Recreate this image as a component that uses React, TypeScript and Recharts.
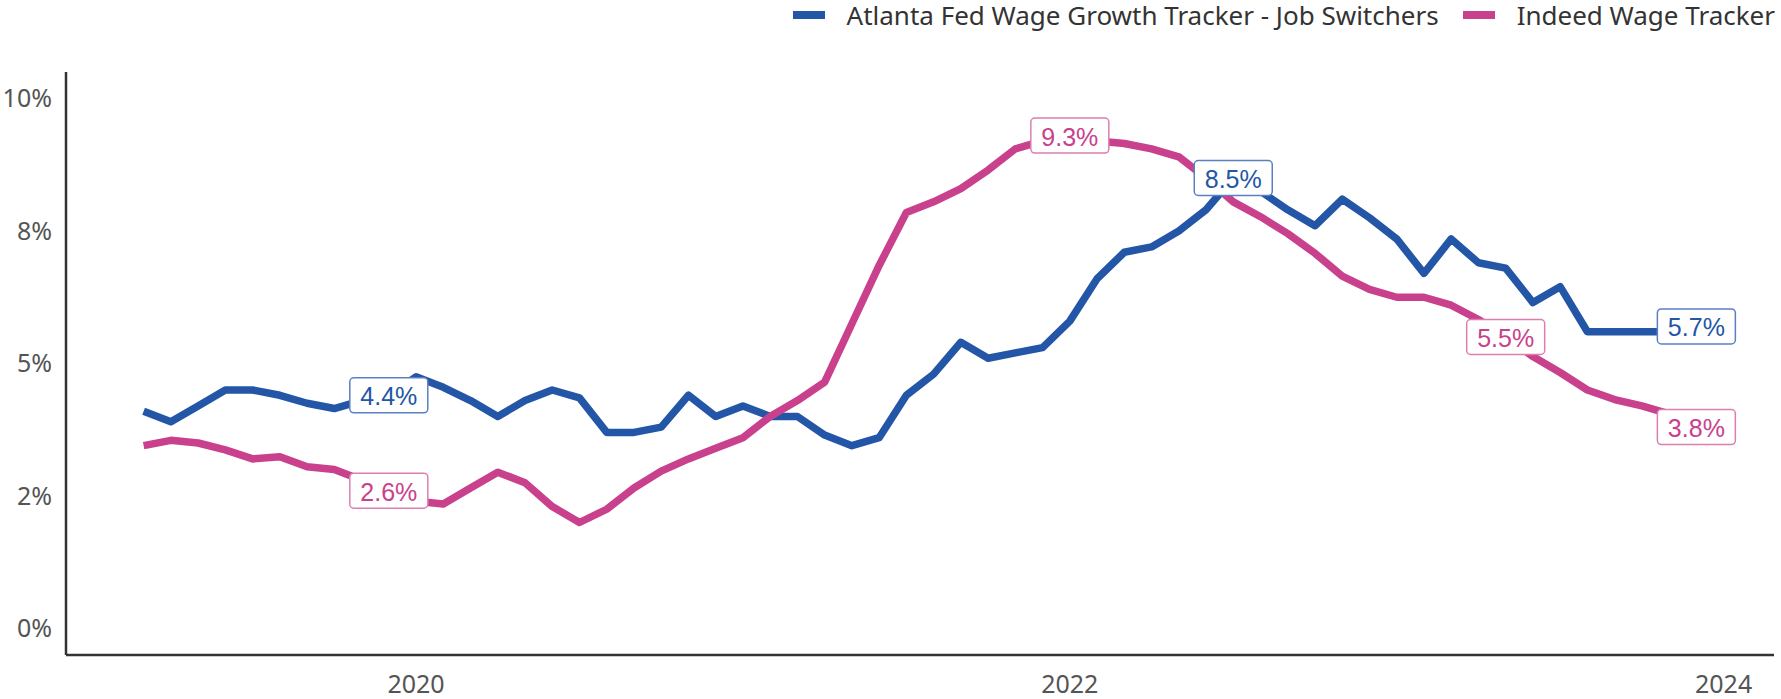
import { LineChart, Line, XAxis, YAxis, Legend, LabelList } from 'recharts'

// monthly observations, Mar 2019 - Dec 2023
const months = [
  '2019-03', '2019-04', '2019-05', '2019-06', '2019-07', '2019-08', '2019-09', '2019-10', '2019-11', '2019-12',
  '2020-01', '2020-02', '2020-03', '2020-04', '2020-05', '2020-06', '2020-07', '2020-08', '2020-09', '2020-10', '2020-11', '2020-12',
  '2021-01', '2021-02', '2021-03', '2021-04', '2021-05', '2021-06', '2021-07', '2021-08', '2021-09', '2021-10', '2021-11', '2021-12',
  '2022-01', '2022-02', '2022-03', '2022-04', '2022-05', '2022-06', '2022-07', '2022-08', '2022-09', '2022-10', '2022-11', '2022-12',
  '2023-01', '2023-02', '2023-03', '2023-04', '2023-05', '2023-06', '2023-07', '2023-08', '2023-09', '2023-10', '2023-11', '2023-12',
]

const atlantaFed = [
  4.1, 3.9, 4.2, 4.5, 4.5, 4.4, 4.25, 4.15, 4.3, 4.4,
  4.75, 4.55, 4.3, 4.0, 4.3, 4.5, 4.35, 3.7, 3.7, 3.8, 4.4, 4.0,
  4.2, 4.0, 4.0, 3.65, 3.45, 3.6, 4.4, 4.8, 5.4, 5.1, 5.2, 5.3,
  5.8, 6.6, 7.1, 7.2, 7.5, 7.9, 8.5, 8.25, 7.9, 7.6, 8.1, 7.75,
  7.35, 6.7, 7.35, 6.9, 6.8, 6.15, 6.45, 5.6, 5.6, 5.6, 5.6, 5.7,
]

const indeed = [
  3.45, 3.55, 3.5, 3.37, 3.2, 3.24, 3.05, 3.0, 2.8, 2.6,
  2.4, 2.35, 2.65, 2.95, 2.75, 2.3, 2.0, 2.25, 2.65, 2.97, 3.2, 3.4,
  3.6, 4.0, 4.3, 4.65, 5.75, 6.85, 7.85, 8.05, 8.3, 8.65, 9.05, 9.2,
  9.3, 9.2, 9.15, 9.05, 8.9, 8.5, 8.05, 7.77, 7.45, 7.08, 6.65, 6.4,
  6.25, 6.25, 6.1, 5.83, 5.5, 5.13, 4.83, 4.5, 4.32, 4.2, 4.05, 3.8,
]

const atlantaLabelAt = ['2019-12', '2022-07', '2023-12']
const indeedLabelAt = ['2019-12', '2022-01', '2023-05', '2023-12']

const xTickDates = ['2020-01', '2022-01', '2024-01']
const xTickLabels = ['2020', '2022', '2024']
const yTicks = [0, 2.5, 5, 7.5, 10]
const yTickLabels = ['0%', '2%', '5%', '8%', '10%']

const BLUE = '#2356a6'
const PINK = '#c9418c'
const FONT = '"Noto Sans", "Open Sans", sans-serif'

// months since Jan 2019
const toMonth = (s: string) => {
  const [y, m] = s.split('-').map(Number)
  return (y - 2019) * 12 + (m - 1)
}

const data = months.map((m, i) => ({ t: toMonth(m), atl: atlantaFed[i], ind: indeed[i] }))

const boxLabel = (color: string, border: string, at: string[]) => (props: any) => {
  const { x, y, value, index } = props
  if (!at.includes(months[index])) return null
  const w = 78
  const h = 35
  return (
    <g>
      <rect x={x - w / 2} y={y - h / 2} width={w} height={h} rx={4} fill="#fff" stroke={border} strokeWidth={1.5} />
      <text
        x={x}
        y={y + 1}
        textAnchor="middle"
        dominantBaseline="central"
        fill={color}
        fontSize={25}
        fontFamily='"Liberation Sans", Arial, sans-serif'
      >
        {Number(value).toFixed(1)}%
      </text>
    </g>
  )
}

const legendItems = [
  { name: 'Atlanta Fed Wage Growth Tracker - Job Switchers', color: BLUE },
  { name: 'Indeed Wage Tracker', color: PINK },
]

function LegendBox() {
  return (
    <div
      style={{
        height: 72,
        boxSizing: 'border-box',
        paddingTop: 1,
        display: 'flex',
        justifyContent: 'flex-end',
        paddingRight: 6,
        fontFamily: FONT,
      }}
    >
      {legendItems.map((it, i) => (
        <div key={it.name} style={{ display: 'flex', alignItems: 'center', height: 28, marginLeft: i ? 24 : 0 }}>
          <span style={{ display: 'inline-block', width: 32, height: 8, background: it.color, marginRight: 22 }} />
          <span style={{ fontSize: 26, lineHeight: '28px', color: '#333', whiteSpace: 'nowrap' }}>{it.name}</span>
        </div>
      ))}
    </div>
  )
}

export default function App() {
  return (
    <div style={{ width: 1781, height: 699, background: '#fff' }}>
      <style>{'body{margin:0}'}</style>
      <LineChart width={1781} height={699} data={data} margin={{ top: 0, right: 7, bottom: 0, left: 0 }}>
        <Legend
          verticalAlign="top"
          align="right"
          wrapperStyle={{ top: 0, left: 0, width: 1781, height: 72 }}
          content={() => <LegendBox />}
        />
        <XAxis
          dataKey="t"
          type="number"
          domain={[-0.85, 61.85]}
          ticks={xTickDates.map(toMonth)}
          tickFormatter={(v) => xTickLabels[xTickDates.map(toMonth).indexOf(v)]}
          height={44}
          tickLine={false}
          tickSize={0}
          tickMargin={20}
          axisLine={{ stroke: '#333', strokeWidth: 2.5 }}
          tick={{ fill: '#555', fontSize: 25, fontFamily: FONT }}
          allowDataOverflow
        />
        <YAxis
          type="number"
          domain={[-0.5, 10.5]}
          ticks={yTicks}
          tickFormatter={(v) => yTickLabels[yTicks.indexOf(v)]}
          width={66}
          tickLine={false}
          tickSize={0}
          tickMargin={14}
          axisLine={{ stroke: '#333', strokeWidth: 2.5 }}
          tick={{ fill: '#555', fontSize: 25, fontFamily: FONT }}
          allowDataOverflow
        />
        <Line
          dataKey="atl"
          name="Atlanta Fed Wage Growth Tracker - Job Switchers"
          stroke={BLUE}
          strokeWidth={7.5}
          strokeLinejoin="round"
          dot={false}
          activeDot={false}
          isAnimationActive={false}
        />
        <Line
          dataKey="ind"
          name="Indeed Wage Tracker"
          stroke={PINK}
          strokeWidth={7.5}
          strokeLinejoin="round"
          dot={false}
          activeDot={false}
          isAnimationActive={false}
        />
        {/* label layers on top of both lines */}
        <Line dataKey="atl" stroke="none" dot={false} activeDot={false} legendType="none" isAnimationActive={false}>
          <LabelList dataKey="atl" content={boxLabel(BLUE, '#5b80c2', atlantaLabelAt)} />
        </Line>
        <Line dataKey="ind" stroke="none" dot={false} activeDot={false} legendType="none" isAnimationActive={false}>
          <LabelList dataKey="ind" content={boxLabel(PINK, '#dc7fb0', indeedLabelAt)} />
        </Line>
      </LineChart>
    </div>
  )
}
